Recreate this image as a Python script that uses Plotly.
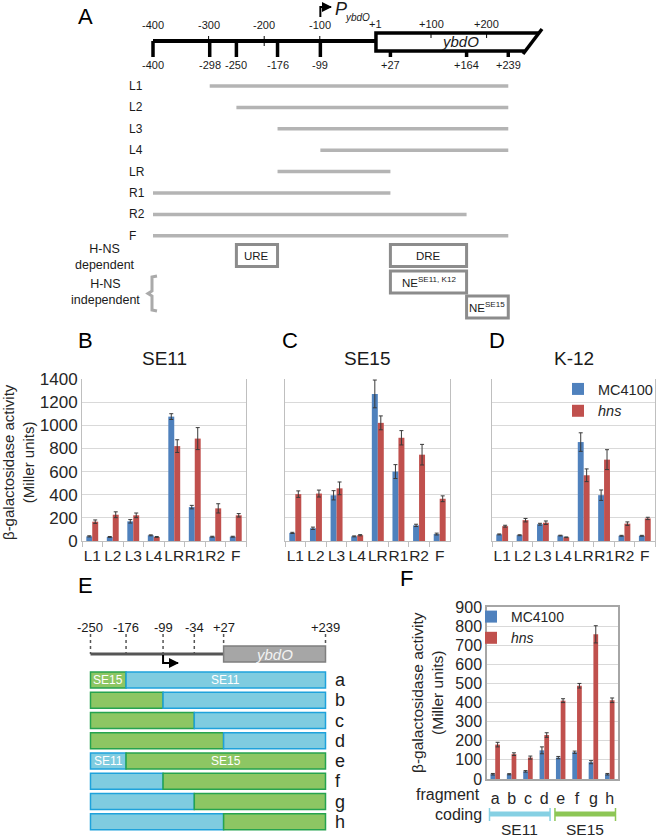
import plotly.graph_objects as go

W, H = 660, 839
FONT = "Liberation Sans, Arial, Helvetica, sans-serif"
TXT = "#1a1a1a"
BLUE = "#4F81BD"
RED = "#C0504D"
GRID = "#D9D9D9"
AXLINE = "#BFBFBF"
FRAG_GRAY = "#B4B4B4"
BOX_GRAY = "#8C8C8C"
GREEN_FILL = "#8DC663"
GREEN_LINE = "#26A34F"
CYAN_FILL = "#7FCCE0"
CYAN_LINE = "#1FA2DB"

# ---------------- data: panel A ----------------
upstream_scale = [-400, -300, -200, -100]
gene_scale = [1, 100, 200]
upstream_sites = [-400, -298, -250, -176, -99]
gene_sites = [27, 164, 239]
promoter_pos = -99
frag_names = ["L1", "L2", "L3", "L4", "LR", "R1", "R2", "F"]
frag_start = [-298, -250, -176, -99, -176, -400, -400, -400]
frag_end = [239, 239, 239, 239, 27, 27, 164, 239]
region_labels = ["URE", "DRE", "NE<sup>SE11, K12</sup>", "NE<sup>SE15</sup>"]
region_start = [-250, 27, 27, 164]
region_end = [-176, 164, 164, 239]
region_row = [0, 0, 1, 2]

# ---------------- data: panels B-D ----------------
strains = ["SE11", "SE15", "K-12"]
mc_se11 = [40, 35, 170, 49, 1075, 293, 37, 37]
mc_se11_err = [5, 4, 15, 4, 25, 15, 4, 4]
hns_se11 = [167, 227, 222, 35, 820, 885, 282, 222]
hns_se11_err = [15, 25, 20, 4, 55, 95, 40, 15]
mc_se15 = [70, 110, 395, 40, 1271, 600, 135, 60]
mc_se15_err = [5, 10, 40, 4, 120, 60, 10, 8]
hns_se15 = [405, 410, 455, 50, 1021, 892, 746, 365]
hns_se15_err = [28, 30, 55, 5, 60, 62, 89, 25]
mc_k12 = [57, 50, 145, 47, 855, 396, 45, 45]
mc_k12_err = [4, 4, 8, 3, 80, 45, 4, 4]
hns_k12 = [128, 180, 158, 32, 568, 703, 150, 195]
hns_k12_err = [8, 15, 15, 3, 55, 86, 15, 10]

# ---------------- data: panel E ----------------
chim_sites = [-250, -176, -99, -34, 27, 239]
chim_rows = ["a", "b", "c", "d", "e", "f", "g", "h"]
chim_junction = [-176, -99, -34, 27, -176, -99, -34, 27]
chim_upstream = ["SE15", "SE15", "SE15", "SE15", "SE11", "SE11", "SE11", "SE11"]
chim_downstream = ["SE11", "SE11", "SE11", "SE11", "SE15", "SE15", "SE15", "SE15"]
chim_labelled_rows = ["a", "e"]

# ---------------- data: panel F ----------------
f_frag = ["a", "b", "c", "d", "e", "f", "g", "h"]
f_mc = [25, 25, 40, 150, 112, 140, 88, 25]
f_mc_err = [4, 3, 4, 18, 6, 6, 8, 4]
f_hns = [180, 130, 112, 230, 410, 488, 757, 412]
f_hns_err = [12, 7, 8, 12, 10, 12, 45, 12]
coding_groups = ["SE11", "SE15"]
coding_first = [0, 4]
coding_last = [3, 7]

# ---------------- layout helpers ----------------
def a_pos(p):  # pixel -> panel A sequence position
    return -400 + (p - 153) / 0.556

def e_pos(p):  # pixel -> panel E sequence position
    return -48.83 + (p - 187.17) / 0.4806

def px(x):
    return x / W

def py(y):
    return 1 - y / H

fig = go.Figure()
ann = []
shapes = []

def line_trace(xs, ys, xa, color, width, dash=None):
    fig.add_trace(go.Scatter(x=xs, y=ys, xaxis=xa, yaxis="y", mode="lines",
                             line=dict(color=color, width=width, dash=dash),
                             hoverinfo="skip", showlegend=False))

def arrow_head(x, y, xa, size=10):
    fig.add_trace(go.Scatter(x=[x], y=[y], xaxis=xa, yaxis="y", mode="markers",
                             marker=dict(symbol="arrow-right", size=size, color="black",
                                         line=dict(width=0)),
                             hoverinfo="skip", showlegend=False))

def text(x, y, t, size, xref="paper", yref="y", xanchor="center", color=TXT, **kw):
    ann.append(dict(x=x, y=y, xref=xref, yref=yref, text=t, showarrow=False,
                    xanchor=xanchor, yanchor="middle",
                    font=dict(size=size, color=color, family=FONT), **kw))

# ================= Panel A =================
LINE_Y = 41
GENE_TOP, GENE_BOT = 33, 51
text(px(85), 16, "A", 22, color="black")
line_trace([upstream_sites[0], gene_scale[0]], [LINE_Y, LINE_Y], "x", "black", 4)
xs, ys = [], []
for t in upstream_scale[1:]:
    xs += [t, t, None]; ys += [LINE_Y - 5, LINE_Y + 5, None]
for t in gene_scale[1:]:
    xs += [t, t, None]; ys += [GENE_TOP, GENE_TOP + 5, None]
line_trace(xs, ys, "x", "black", 1)
xs, ys = [], []
for t in upstream_sites:
    xs += [t, t, None]; ys += [LINE_Y, 57, None]
for t in gene_sites:
    xs += [t, t, None]; ys += [GENE_BOT, 57, None]
line_trace(xs, ys, "x", "black", 3.5)
g_end_top, g_end_bot = a_pos(542), a_pos(523)
line_trace([g_end_top - 5, gene_scale[0], gene_scale[0], g_end_bot + 3],
           [GENE_TOP, GENE_TOP, GENE_BOT, GENE_BOT], "x", "black", 3.5)
line_trace([g_end_top, g_end_bot], [29, 54], "x", "black", 3.5)
text(a_pos(460), LINE_Y, "<i>ybdO</i>", 15, xref="x")
for t in upstream_scale:
    text(t, 25, f"{t:d}", 11, xref="x")
for t in gene_scale:
    text(t, 24, f"{t:+d}", 11, xref="x")
for t in upstream_sites + gene_sites:
    text(t, 65, f"{t:+d}" if t > 0 else f"{t:d}", 11, xref="x")
# promoter arrow
line_trace([promoter_pos, promoter_pos, a_pos(331)], [17, 7, 7], "x", "black", 2)
arrow_head(a_pos(332), 7, "x", 10)
text(px(333), 9, "<i>P</i>", 18, xanchor="left")
text(px(343), 17, "<i>ybdO</i>", 10, xanchor="left")
# fragments
xs, ys = [], []
for i, (n, s, e) in enumerate(zip(frag_names, frag_start, frag_end)):
    y = 86 + i * 21.4
    xs += [s, e, None]; ys += [y, y, None]
    text(px(127), y, n, 12, xanchor="left")
line_trace(xs, ys, "x", FRAG_GRAY, 3.5)
region_y = [255.5, 282, 307]
for lab, s, e, r in zip(region_labels, region_start, region_end, region_row):
    yc = region_y[r]
    shapes.append(dict(type="rect", xref="x", yref="y", x0=s, x1=e, y0=yc - 11, y1=yc + 11,
                       line=dict(color=BOX_GRAY, width=3), fillcolor="white", layer="below"))
    text((s + e) / 2, yc, lab, 11.5, xref="x")
text(px(105), 257, "H-NS<br>dependent", 12.5)
text(px(105), 292, "H-NS<br>independent", 12.5)
line_trace([a_pos(157), a_pos(152), a_pos(152), a_pos(148), a_pos(152), a_pos(152), a_pos(157)],
           [276, 277, 291, 293.5, 296, 310, 311], "x", "#AAAAAA", 3)

# ================= Panels B-D =================
text(px(85), 340, "B", 22, color="black")
text(px(290), 340, "C", 22, color="black")
text(px(497), 340, "D", 22, color="black")
series = [(mc_se11, mc_se11_err, hns_se11, hns_se11_err),
          (mc_se15, mc_se15_err, hns_se15, hns_se15_err),
          (mc_k12, mc_k12_err, hns_k12, hns_k12_err)]
bar_dom_x = [[82, 246], [285, 450], [492, 655]]
bar_top, bar_bot = 379, 541
for i, (strain, (m, me, h, he)) in enumerate(zip(strains, series)):
    xa, ya = f"x{3 + i}", f"y{3 + i}"
    for vals, err, col, nm in [(m, me, BLUE, "MC4100"), (h, he, RED, "<i>hns</i>")]:
        fig.add_trace(go.Bar(x=frag_names, y=vals, name=nm, marker=dict(color=col, line=dict(width=0)),
                             error_y=dict(type="data", array=err, color="#3a3a3a", thickness=1, width=2),
                             xaxis=xa, yaxis=ya, showlegend=(i == 2), legend="legend"))
    d0, d1 = bar_dom_x[i]
    fig.layout[f"xaxis{3 + i}"] = dict(domain=[px(d0), px(d1)], anchor=ya, type="category",
                                       showline=True, linecolor=AXLINE, linewidth=1, ticks="outside",
                                       tickson="boundaries", ticklen=5, tickcolor=AXLINE,
                                       tickangle=0, dtick=1,
                                       tickfont=dict(size=15.5, color="#262626", family=FONT),
                                       showgrid=False, fixedrange=True)
    fig.layout[f"yaxis{3 + i}"] = dict(domain=[py(bar_bot), py(bar_top)], anchor=xa, range=[0, 1400],
                                       dtick=200, showgrid=True, gridcolor=GRID, gridwidth=1,
                                       showline=True, linecolor=AXLINE, linewidth=1, mirror=True,
                                       ticks="", showticklabels=(i == 0), zeroline=False,
                                       tickfont=dict(size=17, color="#262626", family=FONT),
                                       fixedrange=True)
    text(px((d0 + d1) / 2), 358, strain, 19)
ann.append(dict(x=px(18), y=py(462), xref="paper", yref="paper", xanchor="center", yanchor="middle",
                text="β-galactosidase activity<br>(Miller units)",
                textangle=-90, showarrow=False, font=dict(size=15, color="#262626", family=FONT)))

# ================= Panel E =================
text(px(85), 585, "E", 22, color="black")
for s in chim_sites:
    text(s, 627, f"{s:+d}" if s > 0 else f"{s:d}", 13, xref="x2")
xs, ys = [], []
for s in chim_sites:
    xs += [s, s, None]; ys += [634, 654 if s < 27 else 646, None]
line_trace(xs, ys, "x2", "#555555", 1.5, dash="dot")
line_trace([chim_sites[0], chim_sites[4]], [654, 654], "x2", "#555555", 3)
shapes.append(dict(type="rect", xref="x2", yref="y", x0=chim_sites[4], x1=chim_sites[5], y0=646, y1=662,
                   fillcolor="#A6A6A6", line=dict(color="#7F7F7F", width=1.5)))
text((chim_sites[4] + chim_sites[5]) / 2, 654, "<i>ybdO</i>", 15, xref="x2", color="#F2F2F2")
line_trace([-99, -99, e_pos(178)], [655, 663, 663], "x2", "black", 2)
arrow_head(e_pos(179), 663, "x2", 10)
fill = {"SE15": GREEN_FILL, "SE11": CYAN_FILL}
edge = {"SE15": GREEN_LINE, "SE11": CYAN_LINE}
row_y = [680 + i * 20.25 for i in range(len(chim_rows))]
up_len = [j - chim_sites[0] for j in chim_junction]
dn_len = [chim_sites[-1] - j for j in chim_junction]
for lens, bases, strains_seg in [(up_len, [chim_sites[0]] * 8, chim_upstream),
                                 (dn_len, chim_junction, chim_downstream)]:
    fig.add_trace(go.Bar(y=row_y, x=lens, base=bases, orientation="h", xaxis="x2", yaxis="y",
                         width=16, offset=-8,
                         marker=dict(color=[fill[s] for s in strains_seg],
                                     line=dict(color=[edge[s] for s in strains_seg], width=1.5)),
                         hoverinfo="skip", showlegend=False))
    for r, y, b, L, s in zip(chim_rows, row_y, bases, lens, strains_seg):
        if r in chim_labelled_rows:
            text(b + L / 2, y, s, 12, xref="x2", color="white")
for r, y in zip(chim_rows, row_y):
    text(px(333), y, r, 18, xanchor="left")

# ================= Panel F =================
text(px(406), 578, "F", 22, color="black")
for vals, err, col, nm in [(f_mc, f_mc_err, BLUE, "MC4100"), (f_hns, f_hns_err, RED, "<i>hns</i>")]:
    fig.add_trace(go.Bar(x=f_frag, y=vals, name=nm, marker=dict(color=col, line=dict(width=0)),
                         error_y=dict(type="data", array=err, color="#3a3a3a", thickness=1, width=2),
                         xaxis="x6", yaxis="y6", legend="legend2"))
fig.layout.xaxis6 = dict(domain=[px(487), px(618)], anchor="y6", type="category", showline=True,
                         linecolor="#A6A6A6", linewidth=1.5, mirror=True, ticks="", tickangle=0, dtick=1,
                         tickfont=dict(size=16, color="#262626", family=FONT), showgrid=False,
                         ticklabelstandoff=4, fixedrange=True)
fig.layout.yaxis6 = dict(domain=[py(779), py(607)], anchor="x6", range=[0, 900], dtick=100,
                         showgrid=True, gridcolor=GRID, showline=True, linecolor="#A6A6A6",
                         linewidth=1.5, mirror=True, ticks="", zeroline=False,
                         tickfont=dict(size=16, color="#262626", family=FONT), fixedrange=True)
ann.append(dict(x=px(427), y=py(693), xref="paper", yref="paper", xanchor="center", yanchor="middle",
                text="β-galactosidase activity<br>(Miller units)",
                textangle=-90, showarrow=False, font=dict(size=15.5, color="#262626", family=FONT)))
text(px(482), 794, "fragment", 16, xanchor="right", color="#262626")
text(px(458), 814, "coding", 16, color="#262626")
coding_fill = {"SE11": "#86D0E3", "SE15": "#8DC655"}
for g, a, b in zip(coding_groups, coding_first, coding_last):
    x0, x1 = a - 0.35, b + 0.35
    shapes.append(dict(type="line", xref="x6", yref="paper", x0=x0, x1=x1, y0=py(814), y1=py(814),
                       line=dict(color=coding_fill[g], width=5)))
    for xe in (x0, x1):
        shapes.append(dict(type="line", xref="x6", yref="paper", x0=xe, x1=xe, y0=py(808), y1=py(821),
                           line=dict(color=coding_fill[g], width=1.5)))
    ann.append(dict(x=(a + b) / 2, y=py(829), xref="x6", yref="paper", xanchor="center", yanchor="middle",
                    text=g, showarrow=False, font=dict(size=15.5, color="#262626", family=FONT)))

# ================= layout =================
fig.update_layout(
    width=W, height=H, margin=dict(l=0, r=0, t=0, b=0, autoexpand=False),
    paper_bgcolor="white", plot_bgcolor="rgba(0,0,0,0)",
    font=dict(family=FONT, color=TXT),
    barmode="group", bargap=0.42, bargroupgap=0,
    xaxis=dict(domain=[0, 1], range=[a_pos(0), a_pos(W)], visible=False, anchor="y", fixedrange=True),
    xaxis2=dict(domain=[0, 1], range=[e_pos(0), e_pos(W)], visible=False, anchor="y", fixedrange=True),
    yaxis=dict(domain=[0, 1], range=[H, 0], visible=False, anchor="x", fixedrange=True),
    legend=dict(x=px(658), y=py(373), xanchor="right", yanchor="top", bgcolor="rgba(0,0,0,0)",
                font=dict(size=14.5, family=FONT, color="#262626"), tracegroupgap=0),
    legend2=dict(x=px(471), y=py(601), xanchor="left", yanchor="top", bgcolor="rgba(0,0,0,0)",
                 font=dict(size=14, family=FONT, color="#262626"), tracegroupgap=0),
    annotations=ann, shapes=shapes,
)
fig.write_html("out.html", config={"displayModeBar": False},
               post_script="document.body.style.margin='0px';document.body.style.overflow='hidden';")
